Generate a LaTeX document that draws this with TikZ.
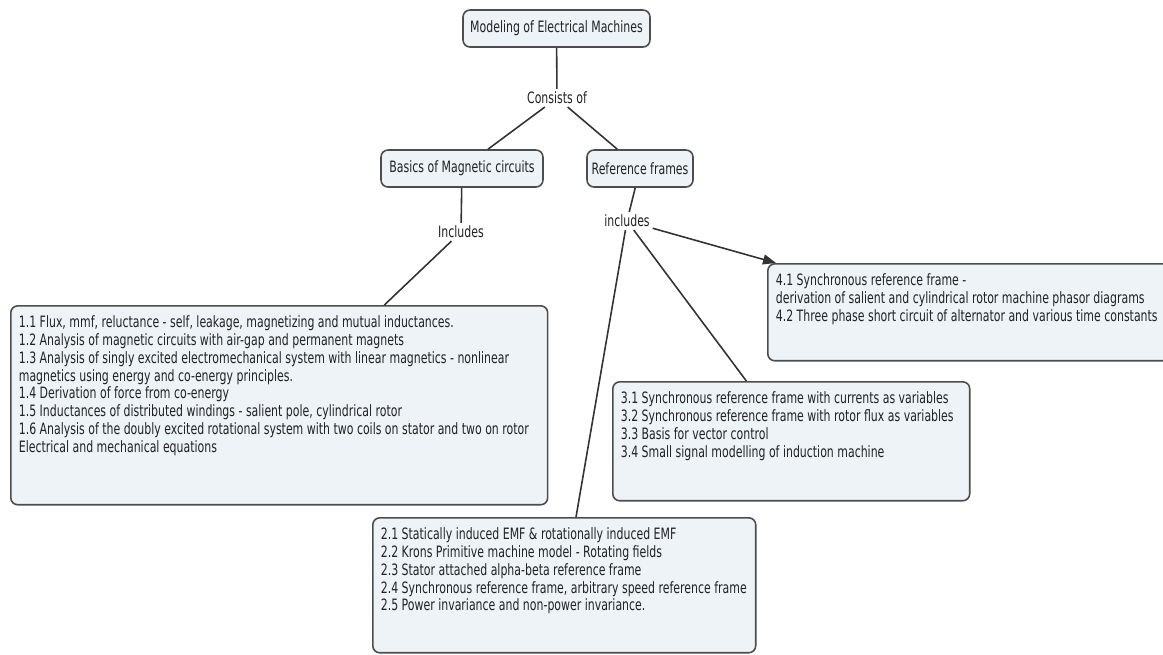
\documentclass[tikz,border=0pt]{standalone}
\usepackage{fontspec}
\setmainfont[FakeStretch=0.70]{DejaVu Sans}
\usetikzlibrary{arrows.meta,calc}
\definecolor{MapFill}{HTML}{EDF3F6}
\definecolor{MapLine}{HTML}{4D4D4D}
\definecolor{MapLink}{HTML}{333333}
\definecolor{MapText}{HTML}{222222}
\tikzset{
  concept/.style={draw=MapLine,fill=MapFill,line width=0.9pt,rounded corners=0.14cm,minimum height=0.74cm,inner sep=1pt},
  infobox/.style={draw=MapLine,fill=MapFill,line width=0.9pt,rounded corners=0.14cm,anchor=north west,inner sep=0pt},
  boxtext/.style={anchor=north west,align=left,inner xsep=0.17cm,inner ysep=0.2cm},
  linkword/.style={inner sep=1.5pt},
  link/.style={draw=MapLink,line width=0.9pt},
}

\begin{document}
\begin{tikzpicture}[x=0.02cm,y=-0.02cm,every node/.append style={font=\fontsize{8.9pt}{10.2pt}\selectfont,text=MapText}]
    \fill[white] (0,0) rectangle (1163,654);
    \clip (0,0) rectangle (1163,654);
    % concepts
    \node[concept,minimum width=3.74cm] (root) at (556.5,28.5) {Modeling of Electrical Machines};
    \node[linkword] (consists) at (557,98) {Consists of};
    \node[concept,minimum width=3.24cm] (basics) at (462,168.5) {Basics of Magnetic circuits};
    \node[concept,minimum width=2.12cm] (frames) at (640,168.5) {Reference frames};
    \node[linkword] (incl) at (461,232) {Includes};
    \node[linkword] (refincl) at (627,221) {includes};
    % topic boxes
    \node[infobox,minimum width=10.74cm,minimum height=3.98cm,
      label={[boxtext]north west:{1.1 Flux, mmf, reluctance - self, leakage, magnetizing and mutual inductances.\\
        1.2 Analysis of magnetic circuits with air-gap and permanent magnets\\
        1.3 Analysis of singly excited electromechanical system with linear magnetics - nonlinear\\
        magnetics using energy and co-energy principles.\\
        1.4 Derivation of force from co-energy\\
        1.5 Inductances of distributed windings - salient pole, cylindrical rotor\\
        1.6 Analysis of the doubly excited rotational system with two coils on stator and two on rotor\\
        Electrical and mechanical equations}}] (mag) at (10,305) {};
    \node[infobox,minimum width=7.66cm,minimum height=2.7cm,
      label={[boxtext]north west:{2.1 Statically induced EMF \& rotationally induced EMF\\
        2.2 Krons Primitive machine model - Rotating fields\\
        2.3 Stator attached alpha-beta reference frame\\
        2.4 Synchronous reference frame, arbitrary speed reference frame\\
        2.5 Power invariance and non-power invariance.}}] (rf2) at (372,517) {};
    \node[infobox,minimum width=7.14cm,minimum height=2.38cm,
      label={[boxtext]north west:{3.1 Synchronous reference frame with currents as variables\\
        3.2 Synchronous reference frame with rotor flux as variables\\
        3.3 Basis for vector control\\
        3.4 Small signal modelling of induction machine}}] (rf3) at (612,381) {};
    \node[infobox,minimum width=8.4cm,minimum height=1.94cm,
      label={[boxtext]north west:{4.1 Synchronous reference frame -\\
        derivation of salient and cylindrical rotor machine phasor diagrams\\
        4.2 Three phase short circuit of alternator and various time constants}}] (rf4) at (767,263) {};
    % links
    \draw[link] (root) -- (consists);
    \draw[link] (consists) -- (basics);
    \draw[link] (consists) -- (frames);
    \draw[link] (basics) -- (incl);
    \draw[link] (incl) -- (mag);
    \draw[link] (frames) -- (refincl);
    \draw[link] (refincl) -- (rf2);
    \draw[link] (refincl) -- (rf3);
    \draw[link,-{Triangle[length=0.26cm,width=0.2cm]}] (refincl) -- ($(rf4.north west)+(9,0)$);
\end{tikzpicture}
\end{document}
